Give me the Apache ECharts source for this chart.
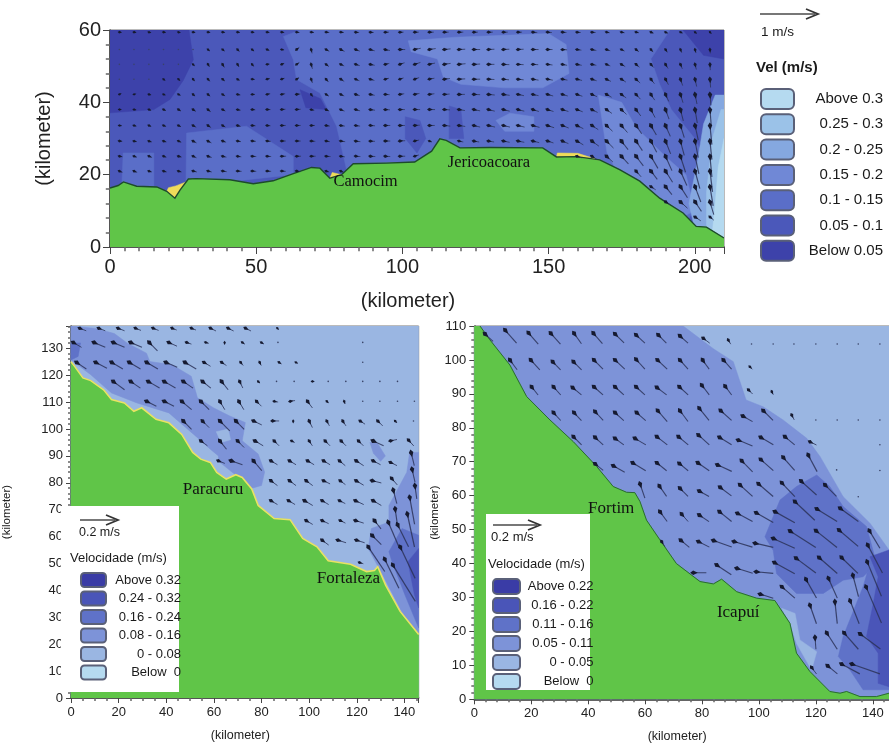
<!DOCTYPE html>
<html><head><meta charset="utf-8">
<style>html,body{margin:0;padding:0;background:#fff}#c{width:889px;height:747px;filter:blur(.4px)}</style>
<script src="https://cdn.jsdelivr.net/npm/echarts@6/dist/echarts.min.js"></script>
</head><body><div id="c"></div>
<script>
/* ---------- contour classes ---------- */
const topClasses=['Above 0.3','0.25 - 0.3','0.2 - 0.25','0.15 - 0.2','0.1 - 0.15','0.05 - 0.1','Below 0.05'];
const topColors=['#b5daf0','#9bc2e8','#85a8e0','#7088d6','#5a6ec8','#4b58ba','#3d42aa'];
const leftClasses=['Above 0.32','0.24 - 0.32','0.16 - 0.24','0.08 - 0.16','0 - 0.08','Below  0'];
const rightClasses=['Above 0.22','0.16 - 0.22','0.11 - 0.16','0.05 - 0.11','0 - 0.05','Below  0'];
const lowerColors=['#3a3ca6','#4a55b8','#5f72c8','#7d93d8','#9ab6e2','#b5daf0'];

/* ---------- top panel (km) ---------- */
const topCoast=[[0,16.3],[2.8,17],[4.6,18],[9.1,16.8],[16,16.6],[19.4,15.4],[22.2,13.5],[24,15.8],[26.8,18.8],[29.6,18.9],[41,18.6],[49,17.5],[55.8,18.3],[62.7,20.3],[68.9,22],[71.8,21.8],[75.2,19],[79.2,20],[83.2,23],[94.6,23.2],[104.2,23.5],[110,26.5],[112.8,29.9],[115,29.5],[119.7,27.4],[129.9,27.5],[148,27.4],[152.7,24.9],[159.5,25],[167.5,24.1],[174.3,21.4],[181.2,18.2],[188,13.5],[196,9.4],[200.5,5.7],[204,5.5],[210,2.5]];
const topSea=[[0,0],[210,0],[210,60],[0,60]];
const topDarkNW=[[0,60],[27,60],[28.5,51.8],[25,46],[20.5,40.8],[15,38],[0,37.1]];
const topDarkNE=[[196,60],[210,60],[210,52],[203,53]];
const topDarkMid=[[65,43.5],[72,41],[74,38],[67,38.5]];
const topMainLight=[[59.3,58.2],[65,60],[191.5,60],[185,52],[188,45],[192,38],[200,30],[203,25],[204,15],[198,8],[190,11],[150,22],[100,22],[80.9,21.4],[77.5,33.4],[71.8,42.6],[63.8,46.3],[62.7,51.8]];
const topLowerA=[[26.2,31.5],[46.7,33.4],[62.7,25],[62.7,20],[40,18],[26,18]];
const topLowerB=[[4.5,26],[15,26],[15,16],[4,16]];
const topSpotA=[[101,36],[106,35],[108,30],[105,26],[101,30]];
const topSpotB=[[116,39],[120,38],[121,30],[116,30]];
const topPatchA=[[102,57],[118,58],[150,59],[156,56],[157,48],[148,44],[135,44],[120,45],[114,47],[112,52],[103,54]];
const topPatchB=[[136.8,37],[145,36],[145,32],[135,32],[132,35]];
const topFan=[[167,42],[175,40],[180,33],[190,25],[197,20],[200,10],[195,8],[188,12],[181,17],[174,20],[170,26]];
const topWedge20=[[203,34],[207,42],[210,42],[210,2.5],[200,5],[198,12],[201,24]];
const topWedge25=[[206,30],[209,38],[210,38],[210,2.5],[204,5],[204,15]];
const topWedge30=[[208,22],[210,30],[210,2.5],[206,4],[207,12]];
const topFringe=[[[19.4,15.4],[22.2,13.5],[24,15.8],[26,18],[22.5,16.9],[20,16.4]],[[75.2,19],[79.2,20],[76,20.6]],[[152.7,24.9],[159.5,25],[167,24.1],[160,25.9],[153,26]]];
const topPlaces=[['Camocim',87.4,18],['Jericoacoara',129.6,23.4]];
const topColumns=[3.2,8.2,13.3,18.3,23.4,28.4,33.5,38.5,43.6,48.6,53.7,58.7,63.8,68.8,73.9,78.9,84,89,94.1,99.1,104.2,109.2,114.3,119.3,124.4,129.4,134.5,139.5,144.6,149.6,154.7,159.7,164.8,169.8,174.9,179.9,185,190,195.1,200.1,205.2];
/* rows: y km, first column index, u values, v values */
const topVectorRows=[
[59.4,0,[-6,-6,-5,-6,-5,-6,-6,-7,-7,-6,-7,-8,-9,-9,-10,-10,-11,-11,-12,-12,-13,-14,-14,-14,-13,-14,-14,-13,-14,-14,-13,-12,-12,-10,-10,-9,-8,-7,-6,-4,-3],[1,1,1,1,1,1,1,1,1,1,1,1,1,1,1,1,1,1,0,0,0,0,0,0,0,0,0,0,1,1,1,1,1,2,2,2,3,3,3,3,3]],
[54.6,0,[-2,-2,-2,-3,-2,-3,-5,-6,-6,-6,-7,-7,-9,-3,-10,-12,-13,-14,-15,-17,-19,-20,-20,-20,-20,-19,-19,-18,-18,-16,-15,-14,-14,-12,-10,-9,-7,-6,-4,-3,-1],[1,1,1,1,1,2,4,5,6,5,3,1,-7,12,6,6,5,4,3,0,-4,-3,-2,-1,0,-1,-1,-1,0,0,1,2,3,4,5,7,8,9,10,11,12]],
[50.5,0,[-2,-3,-3,-2,-3,-4,-5,-6,-5,-5,-7,-8,-9,-4,-9,-11,-13,-14,-13,-15,-18,-18,-20,-21,-20,-19,-19,-18,-17,-16,-15,-15,-14,-12,-12,-11,-9,-8,-6,-4,-1],[2,1,1,1,2,4,8,10,8,6,-1,-3,-6,14,7,5,4,3,-3,-5,-6,-4,-3,-2,-1,0,1,1,1,2,3,3,3,5,7,9,10,13,14,16,18]],
[46.4,0,[-3,-3,-3,-4,-4,-5,-6,-7,-6,-8,-9,-9,-8,-4,-8,-11,-12,-13,-12,-12,-14,-16,-18,-20,-20,-19,-18,-18,-18,-17,-16,-16,-15,-14,-14,-13,-11,-9,-7,-5,-2],[1,1,2,3,4,6,7,6,3,1,-2,-3,-5,12,9,7,5,4,-3,-4,-5,-3,-2,-1,0,1,2,2,3,3,3,4,5,7,9,12,14,17,20,23,26]],
[42.2,0,[-4,-4,-5,-5,-6,-6,-7,-8,-9,-9,-10,-11,-12,-5,-9,-11,-13,-14,-14,-14,-15,-16,-17,-19,-20,-20,-20,-19,-18,-18,-17,-17,-16,-16,-15,-14,-12,-10,-8,-6,-3],[-2,-1,1,2,3,5,6,5,2,0,-2,-2,-1,7,6,5,4,3,1,-2,-3,-2,-1,0,1,2,3,4,4,5,5,6,7,9,11,15,18,22,26,30,34]],
[38,0,[-5,-6,-6,-7,-8,-9,-9,-9,-10,-10,-11,-12,-13,-10,-10,-12,-14,-15,-15,-16,-17,-18,-18,-19,-20,-20,-20,-20,-19,-19,-19,-18,-18,-17,-16,-15,-13,-11,-9,-7,-4],[0,1,2,3,5,6,7,5,2,1,0,-1,-1,2,5,5,4,2,1,0,0,0,1,3,4,5,5,5,6,6,6,7,9,12,15,20,25,30,35,42,50]],
[33.6,0,[-7,-7,-7,-8,-8,-10,-10,-9,-10,-11,-11,-13,-13,-12,-12,-13,-14,-15,-16,-16,-16,-17,-19,-20,-20,-21,-21,-21,-21,-21,-20,-20,-20,-19,-19,-18,-17,-15,-12,-10,-6],[1,2,3,3,4,6,7,5,3,1,1,0,0,0,2,2,2,1,0,0,-1,0,2,3,5,5,5,5,6,7,8,10,13,18,22,26,30,34,38,46,60]],
[29.3,0,[-9,-9,-9,-9,-9,-11,-11,-11,-11,-12,-12,-13,-13,-13,-12,-14,-15,-15,-16,-17,-14,-8],[1,2,3,3,4,6,6,4,2,1,1,0,0,1,2,2,2,1,0,-1,-3,3]],
[29.3,23,[-14,-17,-18,-20,-20,-20,-19,-19,-20,-22,-22,-21,-20,-18,-16,-12,-10,-6],[3,3,3,4,4,5,6,8,12,16,22,27,30,35,40,45,52,58]],
[25.1,0,[-10,-9,-10,-9,-10,-11,-12,-12,-12,-13,-13,-14,-14,-14,-14,-13,-15,-16,-16,-17,-13],[2,3,4,3,3,5,4,3,2,1,1,0,0,0,1,2,1,1,1,0,-4]],
[25.1,31,[-15,-16,-20,-22,-23,-22,-20,-16,-12,-6],[5,10,18,24,30,38,45,50,55,65]],
[21,0,[-10,-10,-9,-10,-10,-12,-12,-13,-13,-13,-13,-13,-12],[4,4,3,3,3,3,3,2,1,1,1,1,2]],
[21,14,[-10,-10],[3,4]],
[21,35,[-16,-20,-22,-20,-15,-8],[18,26,35,45,55,65]],
[16.7,36,[-15,-20,-22,-18,-10],[10,25,35,48,60]],
[12.5,37,[-15,-22,-20,-12],[10,20,30,40]],
[8.3,39,[-18,-12],[12,10]]
];

/* ---------- lower-left panel (km) ---------- */
const leftCoast=[[0,125],[1.6,123.2],[5,119],[8.3,118],[13.7,114.6],[17,111],[22.4,109.7],[26.4,106.6],[29.7,107.9],[35.7,103.6],[41.1,102.3],[46.5,98],[51.1,91.3],[54.5,88.8],[58.5,87.6],[61.2,83.9],[65.2,81.4],[69.2,83],[71.9,82],[75.9,77.7],[78.6,71.6],[85.3,66.7],[92,66.3],[97.3,59.3],[103.3,56.2],[108,51],[117.4,49.7],[124.1,47],[127.4,47.4],[128.8,48.8],[132.1,42],[138.2,32.2],[146,23.6]];
const leftSea=[[0,0],[146,0],[146,138.3],[0,138.3]];
const leftBandNW=[[0,138.3],[10.3,137.4],[18.2,135.5],[23.7,131.9],[31.7,128.2],[33.1,125.1],[42.4,123.9],[50.5,119.6],[53.1,111.6],[59.8,107.9],[66.5,104.9],[73.2,102.4],[71.9,95.6],[78.6,90.7],[81.3,84],[80,79],[76,78],[62,88],[61.9,90],[58.5,92.5],[53.1,96.8],[41.1,106],[27.7,109.7],[17,113.4],[8.3,120.2],[0,125.7]];
const leftHole=[[61,99],[66,100],[67,96],[63,95]];
const leftCorner=[[0,132],[4,132],[3,127],[0,125.7]];
const leftSpot=[[125.5,95],[128.5,95],[132,90],[130,88],[127,91]];
const leftEast=[[142.2,91.3],[146,91.3],[146,23.6],[138.8,32.2],[130.8,45.8],[124.8,55.6],[126.1,63],[133.5,65.4],[133.5,71.6],[141,83.9]];
const leftEastInner=[[146,60.5],[139,63],[133.5,54.4],[134.8,50.7],[140.2,38.4],[146,26]];
const leftEastCore=[[146,55.6],[141.5,50.7],[144.2,38.4],[146,33.5]];
const leftPlaces=[['Paracuru',59.6,77.4],['Fortaleza',116.5,44.3]];
/* x, y km, u, v */
const leftVectors=[
[3.6,137.5,-3.5,1.4],[11.6,137.5,-3.5,1.4],[19.7,137.5,-3.5,1.4],[27,137.5,-3,1.2],[34.4,137.5,-3,1.2],[42.4,137.5,-2.5,1],[50.5,137.5,-2.5,1],[58.5,137.5,-3,1.5],[65.9,137.5,-3,1.5],[73.2,137.5,-3,1.5],[86.6,137.5,-.5,.5],
[.9,132.2,-4.4,2.6],[9.6,132.2,-6,2.6],[17.7,132.2,-6,2.6],[25,132.2,-6,2.6],[32.8,132.2,-4.4,4.4],[41,132.2,-4.4,2],[48.5,132.2,-2.6,.9],[56.5,132.2,-1.7,.5],[64.5,132.2,0,.9],[71.9,132.2,-1.4,1],[79.9,132.2,-1.4,.9],[86.9,132.2,-.4,.4],[122.5,132.2,0,.2],
[2.3,124.8,-5.2,3.5],[10.3,124.8,-6,3.1],[17,124.8,-6,3.5],[24.4,124.8,-6,3.5],[31.7,124.8,-6,3.5],[39.8,124.8,-6,2.6],[47.8,124.8,-6,3.5],[55.8,124.8,-3.5,2.1],[63.2,124.8,-2.6,1.7],[71.2,124.8,-1.4,1.7],[79.2,124.8,-.9,1.7],[87.3,124.8,-1.4,.9],[94.4,124.8,-.9,.5],[122.5,124.8,0,.5],
[17.7,117.7,-6,4.4],[25,117.7,-5.2,3.5],[32.4,117.7,-6,3.5],[39.1,117.7,-6,3.5],[47.1,117.7,-5.2,3.5],[55.2,117.7,-4.4,3.5],[63.2,117.7,-3.5,4.4],[70.8,117.7,-1.7,3.5],[78.6,117.7,-.9,.9],[86.3,117.7,0,.2],[93.7,117.7,0,.2],[101.3,117.7,-.9,0],[108,117.7,0,.2],[115.4,117.7,0,.2],[122.5,117.7,0,.2],[129.7,117.7,0,.2],[137.1,117.7,0,.2],
[31.7,110.3,-5.2,2.6],[39.1,110.3,-5.2,2.6],[46.5,110.3,-5.2,4.4],[54.5,110.3,-4.4,4.4],[62.5,110.3,-2.6,4.4],[70.5,110.3,-2.6,4.4],[77.9,110.3,-2.6,2.6],[85.3,110.3,-2.1,.4],[92,110.3,-2.6,-.4],[99.3,110.3,-2.6,3.5],[107.4,110.3,-.9,.9],[114.7,110.3,-.5,1.4],[122.5,110.3,0,.5],[129.7,110.3,0,.5],[137.1,110.3,0,.2],[144.2,110.3,0,.2],
[47.1,103,-4.4,4.4],[55.2,103,-3.5,3.5],[62.5,103,-5.2,5.2],[69.2,103,-4.4,4.4],[76.6,103,-4.4,2.1],[84.6,103,-3.5,0],[93.3,103,0,.9],[100,103,-1.7,3.5],[107.4,103,-1.4,2.6],[114.1,103,-1.7,2.6],[121.4,103,-2.6,1.7],[128.8,103,-2.6,2.6],[136.1,103,-.9,.9],[143.8,103,0,.5],
[54.5,95.6,-3.5,2.6],[62.5,95.6,-3.5,4.4],[69.9,95.6,-3.5,3.5],[77.2,95.6,-4.4,2.6],[85.3,95.6,-2.6,2.6],[92.6,95.6,-1.7,.9],[100,95.6,-1.7,2.6],[106.7,95.6,-2.6,2.6],[113.4,95.6,-2.6,2.6],[120.7,95.6,-2.6,2.6],[126.8,95.6,-5.6,2.6],[134.1,95.6,-3.5,-.7],[141.7,95.9,-2.8,3.1],
[61.8,88.2,-3.5,1.4],[67.2,88.2,-6,2.1],[76.6,88.2,-4.4,5.2],[83.9,88.2,-3.5,2.1],[91.7,88.2,-3.5,2.1],[99.3,88.2,-3.5,2.1],[106,88.2,-3.5,2.1],[112.7,88.2,-3.1,2.6],[119.7,88.2,-4,2.6],[126.8,88.2,-4,2.1],[134.1,87.6,-3.5,1.7],[142.8,91.3,-1.7,7],
[83.9,80.8,-3.5,2.6],[91.7,80.8,-3.5,2.6],[98.7,80.8,-3.5,2.6],[106,80.8,-3.5,1.7],[113,80.8,-2.8,2.1],[119.7,80.8,-4,2.4],[126.4,80.8,-4.9,1.2],[134.6,81.7,-3,3.5],[143.2,85.1,-1.6,7],
[83.9,73.4,-3.5,2.1],[91.3,73.4,-3.5,2.1],[98,73.4,-4.4,2.6],[105.4,73.4,-3.5,2.1],[112.7,73.4,-3.1,1.6],[119.4,73.4,-4.4,2.1],[126.8,73.4,-4.4,2.6],[135.3,77.4,-1.9,7.3],[144.4,79,-1,7],
[98.7,66,-3.5,2.1],[105.4,66,-3.5,1.7],[113,66,-2.8,1.4],[119.4,66,-4.4,1.4],[127.4,66,-3.5,4.4],[136.1,70.4,-1.2,8.4],[142.2,74.7,-2.6,14.3],
[105.4,58.7,-3.5,2.6],[112,58.7,-4.4,1.4],[119.8,58.7,-4.4,1.4],[126.4,60.5,-4.9,4.9],[133.2,65.4,-5.6,13],[137.1,64.5,-5.8,11.7],[141.2,68.5,-3.8,17.5],
[124.8,56.2,-8.7,13],[138.2,56.2,-7.9,16.6],[121.1,50.4,-2.1,.7],[131.7,51.7,-7.5,15.4],[135.1,49.5,-11.9,19.2]
];

/* ---------- lower-right panel (km) ---------- */
const rightCoast=[[2,110],[5.5,105.9],[12.5,98.5],[18.4,89.2],[26.6,82.3],[34.8,75.9],[43,68.6],[48.8,62.7],[53.5,61],[56.4,60.9],[58.2,58.3],[60.5,52.8],[65.2,47],[71,40],[79.3,34.7],[84,34],[86.9,35.4],[92.2,31.7],[99.2,29.8],[105.6,29.1],[110.9,22.4],[113.2,13.6],[117.9,8.2],[124.9,2.3],[128.5,1.8],[130.8,2.3],[135.5,.8],[141.3,.8],[145.7,1.8]];
const rightSea=[[0,0],[145.7,0],[145.7,110],[0,110]];
const rightMain=[[0,110],[73.4,110],[84,103.3],[91,99.5],[95.5,88.2],[101.5,86.2],[108.5,82.3],[116.8,76.9],[121.5,71.5],[129.6,59.7],[139,51.9],[145.7,44],[145.7,0],[0,0]];
const rightFringe=[[108,26.8],[112.7,25.3],[114.4,17.5],[120.3,14],[118.5,8.6],[113.2,16.5],[110.9,22.4]];
const rightPatch=[[102.1,47.9],[107.4,58.7],[113.2,62.7],[120.3,66.1],[124.9,62.7],[129.6,56.8],[137.8,50.9],[141.3,40.1],[136.6,36.1],[129.6,35.1],[122.6,31.2],[113.2,31.2],[106.2,37],[105,43.9]];
const rightLower=[[129.6,18.5],[136.6,33.2],[139,40],[145.7,42],[145.7,2.8],[136.6,2.8],[132,8.6],[127.9,12.6]];
const rightDeep=[[139,42],[145.7,44],[145.7,3.7],[141.9,4.7],[141.9,13.6],[137.8,18.5],[140.2,28.3],[141.9,36.1]];
const rightPlaces=[['Fortim',48.1,56.1],['Icapuí',92.7,25.5]];
const rightVectors=[
[3.7,107.7,-3.5,3.2],[10.8,108.8,-4.9,5.6],[19,108,-4.2,4.8],[26.8,107.9,-4.2,4.7],[35,107.9,-3.2,4.5],[41.8,107.9,-3.9,4.5],[49.4,107.7,-3.9,3.9],[56.8,107.4,-3.8,3.5],[64.6,107.4,-3.5,3.5],[72.2,107.1,-3.5,3.1],[80.4,106.4,-2.8,2.1],[89.2,105.9,-1.1,1.8],[97.4,104.7,0,.3],[105,104.7,0,.3],[112.3,104.7,0,.3],[120,104.7,0,.3],[127.5,104.7,0,.3],[134.9,104.7,0,.3],[142.5,104.7,0,.3],
[12.5,100,-3.1,4.2],[19.8,100,-3.9,4.2],[27.5,99.5,-3.4,3.5],[34.8,99.5,-3.5,3.5],[42,100,-3.9,3.9],[49.4,100,-4.2,3.9],[56.8,100.2,-3.8,4.2],[64.3,100,-4.2,3.9],[72.2,100,-3.5,3.9],[80.2,100,-2.8,3.9],[87.5,100,-3.5,3.9],[96.8,98,-1.1,1.1],
[20.1,92.1,-2.8,3.5],[27.8,92.1,-3.1,3.5],[34.5,91.9,-3.8,3.2],[42,92.1,-3.9,3.5],[49.4,92.1,-3.8,3.5],[56.8,92.1,-3.8,3.5],[64.1,91.9,-4.2,3.2],[72,92.1,-3.8,3.5],[79.9,92.6,-3.2,4.2],[88.1,92.3,-2.8,3.8],[96.3,91.2,-1.8,1.8],[104.5,90.7,-.7,1.4],
[27.8,84.5,-3.1,3.4],[35,84.5,-3.2,3.4],[42.4,84.8,-3.5,3.8],[49.4,84.5,-3.8,3.4],[57,84.5,-3.9,3.4],[64.4,85.1,-4.1,4.7],[72.2,85.1,-3.5,4.7],[79,85.8,-4.2,5.2],[86.5,85.1,-4.7,4.2],[94.3,83.5,-4.2,2.4],[101.5,85.1,-4.2,4.2],[111.5,83.8,-1.1,2.1],[120,82.3,0,.3],[127.5,82.3,0,.3],[134.9,82.3,0,.3],[142.5,82.3,0,.3],
[34.8,77.4,-3.5,3.5],[42.4,77.2,-3.5,3.2],[49.4,76.9,-3.8,2.8],[56.4,76.9,-4.7,2.8],[64.1,77.4,-4.5,3.5],[71.7,77.4,-4.2,3.5],[78.7,77.9,-4.7,4.2],[86.1,77.2,-5.2,3.2],[92.7,76.4,-6.1,2.5],[100.6,77.2,-5.4,3.2],[109.1,77.4,-4.2,3.5],[117.9,75.9,-2.8,1.4],[142.5,75,0,.3],
[42.4,69.4,-3.5,2.8],[48.8,68.8,-4.9,2.7],[55.6,69.7,-5.6,3.4],[64.1,69.7,-4.2,3.4],[72,69.5,-3.8,3.1],[78.5,69.7,-4.9,3.4],[85.4,69.1,-6.1,2.8],[93.9,70.3,-4.7,4.7],[100.6,70.7,-5.4,4.8],[108.5,71.3,-4.9,5.6],[117.3,72,-3.8,7.1],[127.3,67.6,0,.3],[142.5,67.4,0,.3],
[58.2,63.5,-2.1,6.1],[65,62.9,-3.1,4.5],[72.2,62.2,-3.5,3.5],[79,61.4,-4.2,2.4],[86.3,62.5,-4.9,3.7],[93.3,63.2,-5.4,4.9],[99.8,63.5,-6.3,5.4],[108,63.8,-5.6,5.9],[114.8,64.3,-6.6,5.9],[123.2,63.2,-4.9,4.9],[134.9,59.7,0,.3],
[65.2,55.3,-3.1,4.2],[72.8,54.6,-2.8,3.2],[79,54.3,-4.2,2.8],[86.1,55.3,-5.2,4.2],[92.4,54.8,-6.5,3.5],[99,55,-7.3,4.2],[105.6,55.3,-8.5,4.7],[112.6,58.3,-8.5,8],[120.3,56.1,-8.7,5.4],[128.5,56.3,-7.8,5.6],
[65.8,46.5,-1.4,2.1],[72.5,46.9,-3.7,3.1],[78.7,46.5,-4.7,2.4],[84,46.8,-7.8,2.8],[91.2,46.5,-7.9,2.4],[98.6,46,-7.8,1.8],[105,47.4,-9.2,4.2],[110.9,49.6,-11,7],[120,49.7,-9,7.2],[128.1,49.9,-8.2,7],[138.8,49.7,-4.5,7.5],
[76.9,37.3,-5.6,0],[85.1,39.6,-6.3,4.2],[92.2,38.6,-6.8,2.1],[99,37.6,-7.3,.7],[105.4,40.3,-8.7,4.8],[113,41.6,-8.5,6.3],[121.1,41.8,-7.8,6.8],[129,41.8,-7,6.8],[138.2,45.5,-6.3,12],
[100.4,31,-5.6,1.8],[108,33.2,-5.6,4.9],[116.5,35.4,-4.5,8],[124.4,35.7,-3.8,8.5],[133,36.6,-2.4,9.2],[138,40.6,-6.1,14.8],[137.6,33.2,-6.6,15.5],
[117.9,27.8,-2.8,8],[126.7,28.8,-1,9.4],[132,29.1,-3.9,9.9],
[119.7,18.3,-.4,5.1],[123.8,19.6,-4.5,7],[129.9,19.6,-6.1,7],[135.5,19.3,-8.7,6.5],
[118.5,9.4,-2.1,2.8],[124.1,9.9,-4.2,3.5],[129,10.4,-7.8,4.2],[132.6,10.4,-12,4.2]
];

/* ---------- drawing helpers ---------- */
const FONT='"Liberation Sans",Arial,sans-serif';
function closed(line,corners){return line.concat(corners);}
function polySeries(name,color,pts,g,opt){
  opt=opt||{};
  return {type:'custom',name,coordinateSystem:'cartesian2d',xAxisIndex:g,yAxisIndex:g,silent:true,clip:true,animation:false,z:2,
    itemStyle:{color},data:pts.length?[pts[0]]:[],encode:{x:0,y:1},
    renderItem:(p,api)=>({type:opt.line?'polyline':'polygon',shape:{points:pts.map(q=>api.coord(q))},
      style:opt.line?{fill:'none',stroke:color,lineWidth:opt.line}:{fill:color,stroke:color,lineWidth:.5}})};
}
function vectorSeries(rows,g,scale){
  return {type:'custom',name:'Velocity vectors',coordinateSystem:'cartesian2d',xAxisIndex:g,yAxisIndex:g,silent:true,clip:true,animation:false,z:2,
    data:rows,encode:{x:0,y:1},
    renderItem:(p,api)=>{
      const h=api.coord([api.value(0),api.value(1)]);
      const du=api.value(2)*scale,dv=api.value(3)*scale,len=Math.hypot(du,dv);
      if(len<1.2)return {type:'circle',shape:{cx:h[0],cy:h[1],r:.8},style:{fill:'#3a4468'}};
      const ux=du/len,uy=-dv/len,nx=-uy,ny=ux;
      const r=Math.min(1.1+len*.11,2.3),t=[h[0]-du,h[1]+dv];
      return {type:'group',children:[
        {type:'line',shape:{x1:t[0],y1:t[1],x2:h[0],y2:h[1]},style:{stroke:'#2b3358',lineWidth:Math.min(.8+len*.02,1.2),opacity:.85}},
        {type:'polygon',shape:{points:[[h[0]+ux*r*1.3,h[1]+uy*r*1.3],[h[0]+nx*r,h[1]+ny*r],[h[0]-ux*r*2,h[1]-uy*r*2],[h[0]-nx*r,h[1]-ny*r]]},style:{fill:'#161a30'}}
      ]};
    }};
}
function placeSeries(places,g,size){
  return {type:'custom',name:'Places',coordinateSystem:'cartesian2d',xAxisIndex:g,yAxisIndex:g,silent:true,animation:false,z:3,
    data:places.map(q=>[q[1],q[2],q[0]]),encode:{x:0,y:1},dimensions:['x','y',{name:'n',type:'ordinal'}],
    renderItem:(p,api)=>{const c=api.coord([api.value(0),api.value(1)]);
      return {type:'text',style:{x:c[0],y:c[1],text:places[p.dataIndex][0],fill:'#111',font:size+'px "Liberation Serif",serif',align:'center',verticalAlign:'middle'}};}};
}
function classLegend(names,colors,left,top,w,h,gap,textW,size){
  return {show:true,orient:'vertical',left,top,padding:0,itemWidth:w,itemHeight:h,itemGap:gap,icon:'roundRect',selectedMode:false,z:6,align:'left',
    itemStyle:{borderColor:'#5a6078',borderWidth:2},
    data:names.map((n,i)=>({name:n,itemStyle:{color:colors[i],borderColor:'#5a6078',borderWidth:2}})),
    formatter:n=>'{r|'+n+'}',
    textStyle:{rich:{r:{width:textW,align:'right',fontFamily:FONT,fontSize:size,color:'#1a1a1a',lineHeight:h>16?18:14}}}};
}
function axis(g,min,max,interval,split,size,tick,extra){
  return Object.assign({type:'value',gridIndex:g,min,max,interval,scale:false,
    axisLine:{show:true,onZero:false,lineStyle:{color:'#333',width:1.5}},
    axisTick:{show:true,length:tick,lineStyle:{color:'#444',width:1}},
    minorTick:{show:true,splitNumber:split,length:tick*.6,lineStyle:{color:'#666',width:1.5}},
    splitLine:{show:false},minorSplitLine:{show:false},
    axisLabel:{fontFamily:FONT,fontSize:size,color:'#222',margin:tick+3},
    nameLocation:'middle',name:'(kilometer)'},extra||{});
}
function keyArrow(x1,x2,y){
  return [{type:'line',z:5,shape:{x1,y1:y,x2:x2-3,y2:y},style:{stroke:'#777',lineWidth:2}},
          {type:'polyline',z:5,shape:{points:[[x2-12,y-5],[x2,y],[x2-12,y+5]]},style:{fill:'none',stroke:'#333',lineWidth:1.8}}];
}
function label(text,x,y,size,extra){
  return {type:'text',z:5,style:Object.assign({text,x,y,fill:'#1a1a1a',font:size+'px '+FONT,verticalAlign:'middle'},extra||{})};
}

/* ---------- series assembly ---------- */
const C=(list,cols,i)=>[list[i],cols[i]];
const layersTop=[[5,topSea],[6,topDarkNW],[6,topDarkNE],[4,topLowerA],[4,topLowerB],[4,topMainLight],[6,topDarkMid],[5,topSpotA],[5,topSpotB],[3,topPatchA],[3,topPatchB],[3,topFan],[2,topWedge20],[1,topWedge25],[0,topWedge30]];
const layersLeft=[[4,leftSea],[3,leftBandNW],[4,leftHole],[2,leftCorner],[3,leftSpot],[3,leftEast],[2,leftEastInner],[1,leftEastCore]];
const layersRight=[[4,rightSea],[3,rightMain],[4,rightFringe],[2,rightPatch],[2,rightLower],[1,rightDeep]];
function topRowsToVectors(){
  const out=[];
  topVectorRows.forEach(r=>r[2].forEach((u,i)=>out.push([topColumns[r[1]+i],r[0],u,r[3][i]])));
  return out;
}
function panelSeries(g,layers,names,colors,land,coast,coastColor,coastW,fringe,vectors,scale,places,placeSize){
  const s=[];
  layers.forEach(l=>s.push(polySeries(names[l[0]],colors[l[0]],l[1],g)));
  names.forEach((n,i)=>{if(!layers.some(l=>l[0]===i))s.push(polySeries(n,colors[i],[],g));});
  s.push(polySeries('Land','#60c548',land,g));
  fringe.forEach(f=>s.push(polySeries('Shallows','#efdc5a',f,g)));
  s.push(polySeries('Coastline',coastColor,coast,g,{line:coastW}));
  s.push(vectorSeries(vectors,g,scale));
  s.push(placeSeries(places,g,placeSize));
  return s;
}
const series=[].concat(
  panelSeries(0,layersTop,topClasses,topColors,closed(topCoast,[[210,0],[0,0]]),topCoast,'#1d4a2c',1.4,topFringe,topRowsToVectors(),.32,topPlaces,16.5),
  panelSeries(1,layersLeft,leftClasses,lowerColors,closed(leftCoast,[[146,0],[0,0]]),leftCoast,'#e9e264',1.6,[],leftVectors,1.9/3*3,leftPlaces,17),
  panelSeries(2,layersRight,rightClasses,lowerColors,closed(rightCoast,[[145.7,0],[0,0],[0,110]]),rightCoast,'#2a6a34',1,[],rightVectors,2.35,rightPlaces,17)
);

const option={
  animation:false,backgroundColor:'#fff',tooltip:{show:false},
  grid:[
    {left:110,top:30,width:614,height:217,show:true,borderColor:'#777',borderWidth:1,backgroundColor:'transparent'},
    {left:54.5,top:326,width:364.2,height:374.7,show:true,borderColor:'#777',borderWidth:1,backgroundColor:'transparent'},
    {left:474.3,top:326,width:414.7,height:373.3,show:true,borderColor:'#777',borderWidth:1,backgroundColor:'transparent'}
  ],
  xAxis:[
    axis(0,0,210,50,10,20,7,{axisLabel:{fontFamily:FONT,fontSize:20,color:'#222',margin:10,showMaxLabel:false},nameGap:44,nameTextStyle:{fontFamily:FONT,fontSize:20,color:'#222',padding:[0,18,0,0]}}),
    axis(1,0,146,20,4,13,5,{axisLabel:{fontFamily:FONT,fontSize:13,color:'#222',margin:8,showMaxLabel:false},nameGap:31,nameTextStyle:{fontFamily:FONT,fontSize:12.5,color:'#222',padding:[0,9,0,0]}}),
    axis(2,0,145.7,20,5,13,5,{axisLabel:{fontFamily:FONT,fontSize:13,color:'#222',margin:8,showMaxLabel:false},nameGap:31,nameTextStyle:{fontFamily:FONT,fontSize:12.5,color:'#222',padding:[0,9,0,0]}})
  ],
  yAxis:[
    axis(0,0,60,20,5,20,7,{nameGap:56,nameTextStyle:{fontFamily:FONT,fontSize:20,color:'#222'},axisLabel:{fontFamily:FONT,fontSize:20,color:'#222',margin:9}}),
    axis(1,0,138.3,10,5,13,5,{axisLabel:{fontFamily:FONT,fontSize:13,color:'#222',margin:8,showMaxLabel:false},nameGap:34,nameTextStyle:{fontFamily:FONT,fontSize:11.5,color:'#222',padding:[0,0,24,0]}}),
    axis(2,0,110,10,5,13,5,{nameGap:32,nameTextStyle:{fontFamily:FONT,fontSize:11.5,color:'#222'},axisLabel:{fontFamily:FONT,fontSize:13,color:'#222',margin:8}})
  ],
  legend:[
    classLegend(topClasses,topColors,760,88,33,20,3.3,84,15),
    classLegend(leftClasses,lowerColors,80,572,25,14,2.5,70,13),
    classLegend(rightClasses,lowerColors,492,578,27,15,2,68.5,13)
  ],
  graphic:{elements:[
    {type:'rect',z:3,shape:{x:61,y:506,width:118,height:186},style:{fill:'#fff'}},
    {type:'rect',z:3,shape:{x:486,y:514,width:104,height:176},style:{fill:'#fff'}},
    ...keyArrow(760,818,14),
    ...keyArrow(80,118,520),
    ...keyArrow(493,540,525),
    label('1 m/s',761,32,13.5),
    label('Vel (m/s)',756,68,15,{font:'bold 15px '+FONT}),
    label('0.2 m/s',79,533,12.5),
    label('Velocidade (m/s)',70,558,13),
    label('0.2 m/s',491,537,13),
    label('Velocidade (m/s)',488,564,13)
  ]},
  series
};
echarts.init(document.getElementById('c'),null,{renderer:'canvas'}).setOption(option);
</script></body></html>
